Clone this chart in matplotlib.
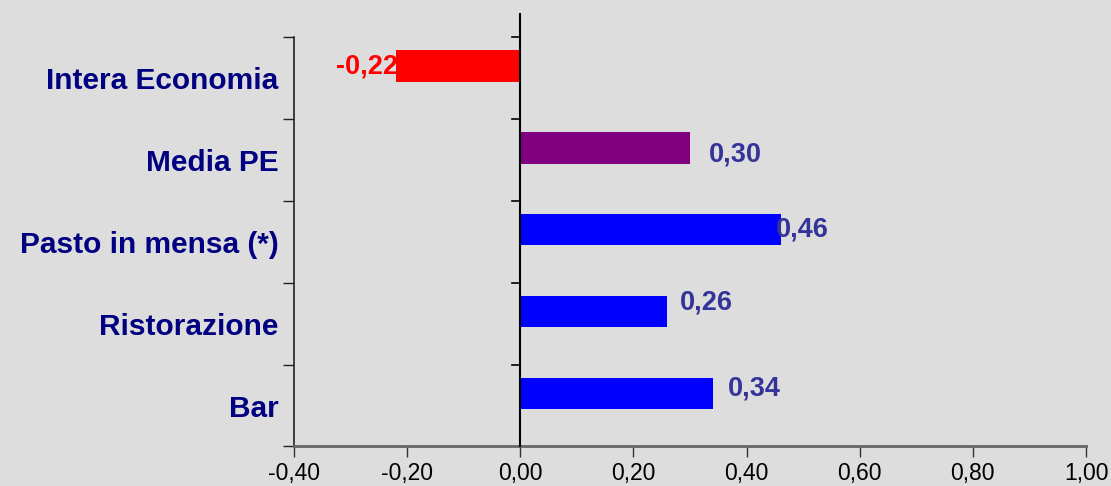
import numpy as np
import matplotlib
matplotlib.use('Agg')
import matplotlib.pyplot as plt
from matplotlib.ticker import FuncFormatter, FixedLocator

# data (bottom to top)
categories = ['Bar', 'Ristorazione', 'Pasto in mensa (*)', 'Media PE', 'Intera Economia']
values = [0.34, 0.26, 0.46, 0.30, -0.22]
bar_colors = ['#0000FF', '#0000FF', '#0000FF', '#800080', '#FF0000']
label_colors = ['#333399', '#333399', '#333399', '#333399', '#FF0000']
# label nudges in pixels (dx right, dy down), like Excel placed them
label_nudge = [(15, -5), (13, -9), (-5, 0), (19, 7), (2, 0)]
xticks = [-0.4, -0.2, 0.0, 0.2, 0.4, 0.6, 0.8, 1.0]

plt.rcParams['font.family'] = ['Liberation Sans', 'DejaVu Sans']

bg = '#DDDDDD'
fig = plt.figure(figsize=(11.11, 4.86), dpi=100, facecolor=bg)
ax = fig.add_axes([0.2646, 0.0813, 0.7129, 0.8426], facecolor=bg)

y = np.arange(len(categories))
bar_y = y + 0.145
ax.barh(bar_y, values, height=0.38, color=bar_colors, zorder=2)

px = 72.0 / fig.dpi
for i, v in enumerate(values):
    txt = f'{v:.2f}'.replace('.', ',')
    dx, dy = label_nudge[i]
    if v < 0:
        ax.annotate(txt, (v, bar_y[i]), xytext=(dx * px, -dy * px), textcoords='offset points',
                    ha='right', va='center', color=label_colors[i], fontsize=19.5,
                    fontweight='bold', zorder=1)
    else:
        ax.annotate(txt, (v, bar_y[i]), xytext=(dx * px, -dy * px), textcoords='offset points',
                    ha='left', va='center', color=label_colors[i], fontsize=19.5,
                    fontweight='bold', zorder=3)

ax.set_xlim(-0.4, 1.0)
ax.set_ylim(-0.5, len(categories) - 0.5)

ax.set_xticks(xticks)
ax.xaxis.set_major_formatter(FuncFormatter(lambda x, p: f'{x:.2f}'.replace('.', ',')))
for lab in ax.get_xticklabels():
    lab.set_fontsize(16.5)
ax.tick_params(axis='x', direction='out', length=8, width=1, color='#333333', pad=3)

ax.set_yticks(y)
ax.set_yticklabels(categories, fontsize=21.5, fontweight='bold', color='#000080')
ax.yaxis.set_minor_locator(FixedLocator(np.arange(len(categories) + 1) - 0.5))
ax.tick_params(axis='y', which='major', length=0, pad=11)
ax.tick_params(axis='y', which='minor', direction='out', length=8, width=1, color='#222222')

for s in ['top', 'right']:
    ax.spines[s].set_visible(False)
ax.spines['bottom'].set_color('#666666')
ax.spines['bottom'].set_linewidth(2)
ax.spines['left'].set_color('#222222')
ax.spines['left'].set_linewidth(1.2)

# vertical axis at zero, runs above the plot area
ax.plot([0, 0], [-0.5, len(categories) - 0.5 + 0.28], color='black', lw=1.5,
        clip_on=False, zorder=4)
xr = 8 / (0.7129 * 1111) * 1.4
for b in np.arange(len(categories)) + 0.5:
    ax.plot([-xr, 0], [b, b], color='black', lw=1.2, clip_on=False, zorder=4)

fig.savefig('out.png', dpi=100, facecolor=bg)
